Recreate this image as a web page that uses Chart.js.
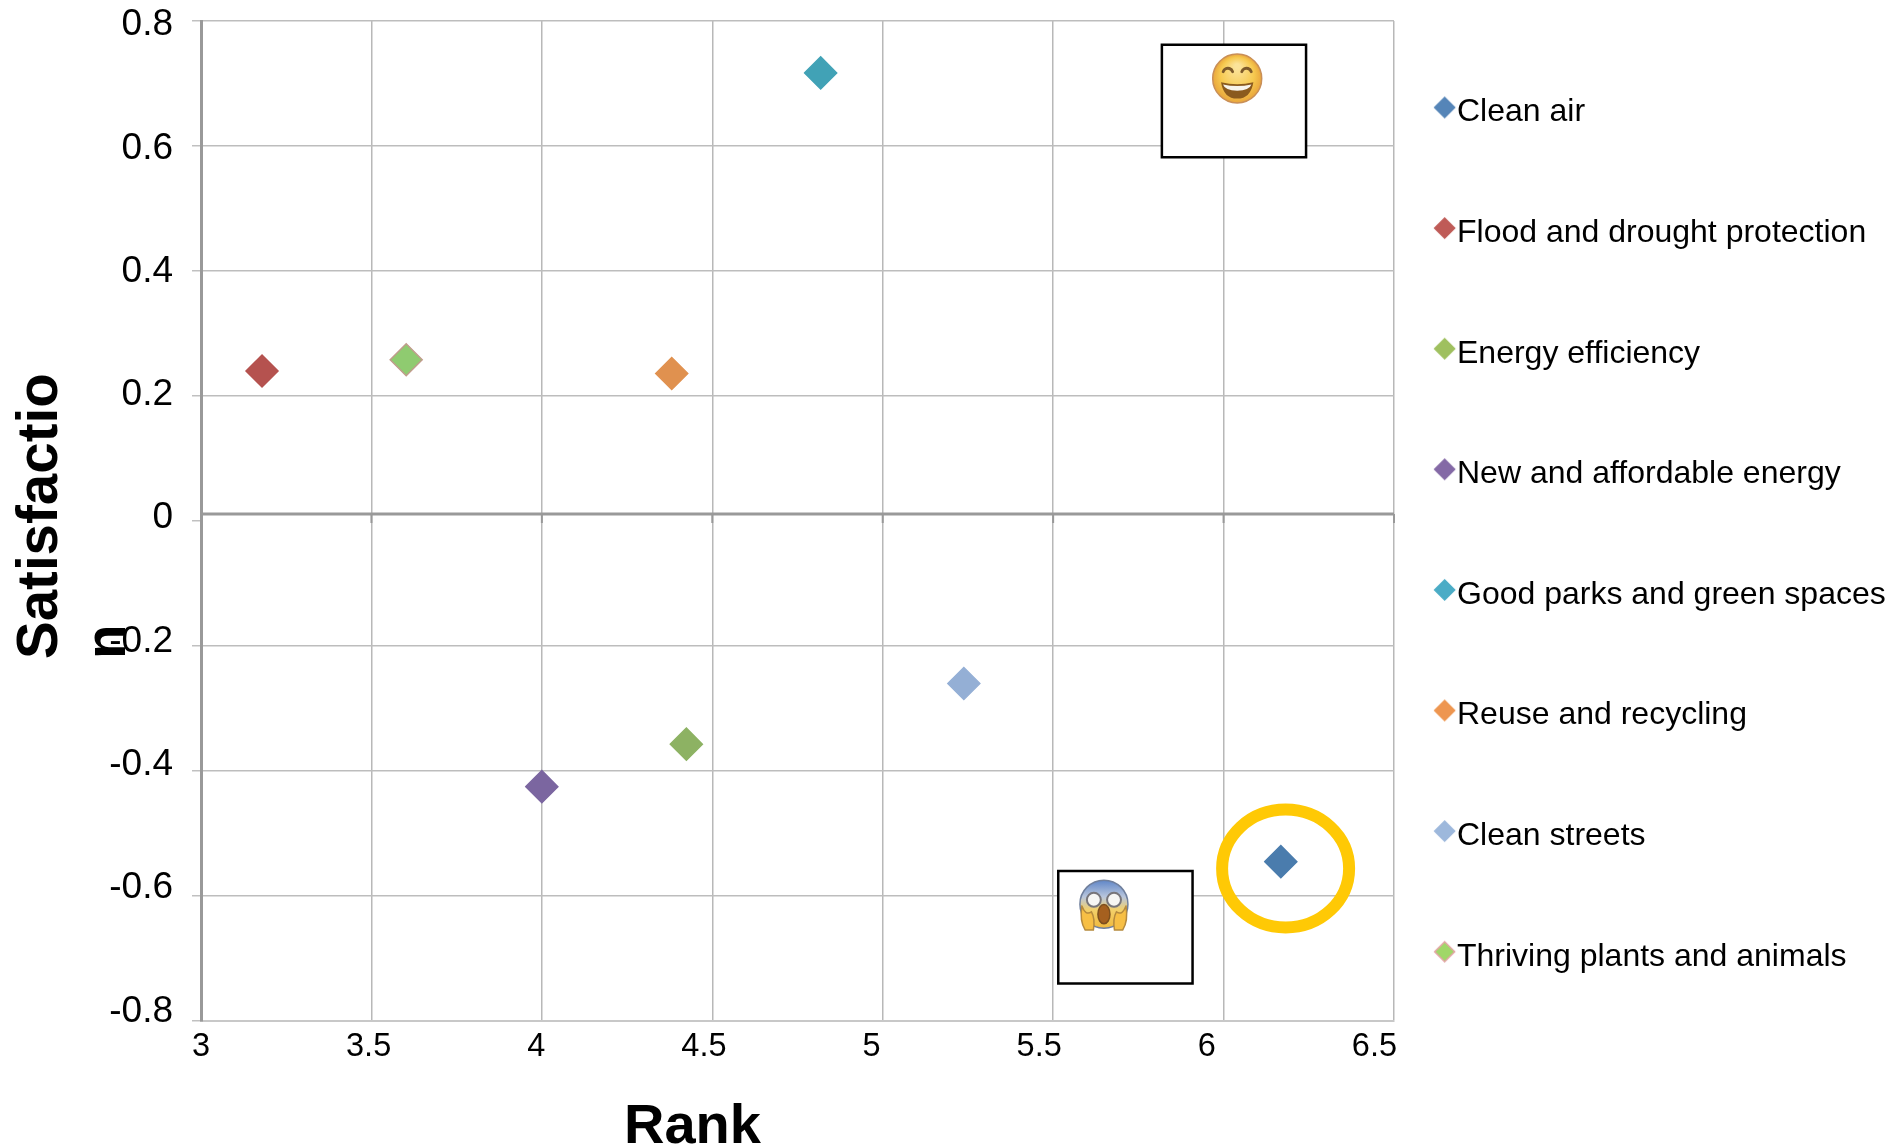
<!DOCTYPE html>
<html>
<head>
<meta charset="utf-8">
<title>Satisfaction and rank of environmental priorities</title>
<style>
  html, body { margin: 0; padding: 0; background: #fff; }
  #wrap { width: 1901px; height: 1147px; }
</style>
<script src="https://cdn.jsdelivr.net/npm/chart.js@4/dist/chart.umd.min.js"></script>
</head>
<body>
<div id="wrap"><canvas id="chart" width="1901" height="1147"></canvas></div>
<script>
const seriesNames = ['Clean air', 'Flood and drought protection', 'Energy efficiency',
  'New and affordable energy', 'Good parks and green spaces', 'Reuse and recycling',
  'Clean streets', 'Thriving plants and animals'];
const rankValues = [6.168, 3.179, 4.424, 4.0, 4.818, 4.381, 5.238, 3.602];
const satisfactionValues = [-0.545, 0.24, -0.357, -0.425, 0.717, 0.236, -0.26, 0.258];
const fillColors = ['#4a7cad', '#b5524f', '#8db263', '#7b66a0', '#41a2b6', '#e0914f', '#94afd5', '#8fcb70'];
const edgeColors = ['#4a7cad', '#b5524f', '#8db263', '#7b66a0', '#41a2b6', '#e0914f', '#94afd5', '#c09c8c'];
const legendFills = ['#5585b8', '#bf5b57', '#9fc05f', '#8469a6', '#4bacc6', '#ee9650', '#9db8dc', '#a0d768'];
const legendEdges = ['#5585b8', '#bf5b57', '#9fc05f', '#8469a6', '#4bacc6', '#ee9650', '#9db8dc', '#e3a4a4'];

const xTickValues = [3, 3.5, 4, 4.5, 5, 5.5, 6, 6.5];
const xTickLabels = ['3', '3.5', '4', '4.5', '5', '5.5', '6', '6.5'];
const yTickValues = [-0.8, -0.6, -0.4, -0.2, 0, 0.2, 0.4, 0.6, 0.8];
const yTickLabels = ['-0.8', '-0.6', '-0.4', '-0.2', '0', '0.2', '0.4', '0.6', '0.8'];

const xTitle = 'Rank';
const yTitleLines = ['Satisfactio', 'n'];

// Callout frames, in data units: [xFrom, xTo, yTop, yBottom]
const happyBox = [5.819, 6.242, 0.762, 0.582];
const scaredBox = [5.515, 5.909, -0.560, -0.740];
const happyFace = [6.040, 0.708];
const scaredFace = [5.649, -0.613];
const ringCentre = [6.182, -0.556];

const FONT = '"Liberation Sans", Arial, sans-serif';

// Legend swatch: a small diamond nudged up and to the right inside its own tile,
// so it sits tight against the start of the label.
function legendSwatch(fill, edge) {
  const tile = document.createElement('canvas');
  tile.width = 40;
  tile.height = 40;
  const c = tile.getContext('2d');
  const cx = 23.6, cy = 15, r = 10;
  c.beginPath();
  c.moveTo(cx, cy - r); c.lineTo(cx + r, cy); c.lineTo(cx, cy + r); c.lineTo(cx - r, cy);
  c.closePath();
  c.fillStyle = fill;
  c.fill();
  c.lineWidth = 1.5;
  c.strokeStyle = edge;
  c.stroke();
  return tile;
}
const legendTiles = legendFills.map((f, i) => legendSwatch(f, legendEdges[i]));

function drawHappyFace(ctx, cx, cy, r) {
  const g = ctx.createRadialGradient(cx, cy - r * 0.5, r * 0.1, cx, cy, r);
  g.addColorStop(0, '#fbe39a');
  g.addColorStop(0.65, '#f6c94f');
  g.addColorStop(1, '#e9a63c');
  ctx.beginPath(); ctx.arc(cx, cy, r, 0, Math.PI * 2);
  ctx.fillStyle = g; ctx.fill();
  ctx.lineWidth = 1.5; ctx.strokeStyle = '#c98f58'; ctx.stroke();
  // squinting eyes
  ctx.strokeStyle = '#7d5a2a'; ctx.lineWidth = 3; ctx.lineCap = 'round';
  [-0.38, 0.38].forEach(d => {
    ctx.beginPath();
    ctx.arc(cx + d * r, cy - r * 0.22, r * 0.2, Math.PI * 1.1, Math.PI * 1.9);
    ctx.stroke();
  });
  // open mouth with a band of teeth
  ctx.beginPath();
  ctx.moveTo(cx - r * 0.66, cy + r * 0.15);
  ctx.quadraticCurveTo(cx, cy + r * 0.32, cx + r * 0.66, cy + r * 0.15);
  ctx.quadraticCurveTo(cx + r * 0.55, cy + r * 0.82, cx, cy + r * 0.82);
  ctx.quadraticCurveTo(cx - r * 0.55, cy + r * 0.82, cx - r * 0.66, cy + r * 0.15);
  ctx.fillStyle = '#8a5a1e'; ctx.fill();
  ctx.beginPath();
  ctx.moveTo(cx - r * 0.58, cy + r * 0.24);
  ctx.quadraticCurveTo(cx, cy + r * 0.38, cx + r * 0.58, cy + r * 0.24);
  ctx.quadraticCurveTo(cx + r * 0.5, cy + r * 0.48, cx, cy + r * 0.5);
  ctx.quadraticCurveTo(cx - r * 0.5, cy + r * 0.48, cx - r * 0.58, cy + r * 0.24);
  ctx.fillStyle = '#f7f4ec'; ctx.fill();
}

function drawScaredFace(ctx, cx, cy, r) {
  const g = ctx.createLinearGradient(0, cy - r, 0, cy + r);
  g.addColorStop(0, '#5f86c8');
  g.addColorStop(0.35, '#b9c6dc');
  g.addColorStop(0.62, '#f3d06a');
  g.addColorStop(1, '#f0b93e');
  ctx.beginPath(); ctx.arc(cx, cy, r, 0, Math.PI * 2);
  ctx.fillStyle = g; ctx.fill();
  ctx.lineWidth = 1.5; ctx.strokeStyle = '#6f7f9c'; ctx.stroke();
  [-0.42, 0.42].forEach(d => {
    ctx.beginPath(); ctx.arc(cx + d * r, cy - r * 0.18, r * 0.29, 0, Math.PI * 2);
    ctx.fillStyle = '#f6f6f4'; ctx.fill();
    ctx.lineWidth = 2; ctx.strokeStyle = '#77757a'; ctx.stroke();
  });
  ctx.beginPath(); ctx.ellipse(cx, cy + r * 0.42, r * 0.25, r * 0.4, 0, 0, Math.PI * 2);
  ctx.fillStyle = '#a5601f'; ctx.fill();
  ctx.lineWidth = 1.5; ctx.strokeStyle = '#7d4f1e'; ctx.stroke();
  // hands pressed against the cheeks
  [-1, 1].forEach(s => {
    ctx.beginPath();
    ctx.moveTo(cx + s * r * 0.92, cy + r * 0.08);
    ctx.quadraticCurveTo(cx + s * r * 1.02, cy + r * 0.7, cx + s * r * 0.78, cy + r * 1.08);
    ctx.lineTo(cx + s * r * 0.44, cy + r * 1.08);
    ctx.quadraticCurveTo(cx + s * r * 0.36, cy + r * 0.6, cx + s * r * 0.52, cy + r * 0.32);
    ctx.quadraticCurveTo(cx + s * r * 0.76, cy + r * 0.5, cx + s * r * 0.92, cy + r * 0.08);
    ctx.fillStyle = '#f7bf45'; ctx.fill();
    ctx.lineWidth = 1.5; ctx.strokeStyle = '#b58a3e'; ctx.stroke();
  });
}

// Tick labels run on a slightly tighter pitch than the gridlines.
const tickLabelPitch = {
  id: 'tickLabelPitch',
  beforeDraw(chart) {
    const { x, y } = chart.scales;
    x.getLabelItems().forEach((item, i) => {
      const p = x.getPixelForTick(i);
      item.options.translation[0] = x.left + (p - x.left) * 0.9836;
    });
    y.getLabelItems().forEach((item, i) => {
      const p = y.getPixelForTick(i);
      item.options.translation[1] = y.top + 4 + (p - y.top) * 0.9864;
    });
  }
};

// The horizontal axis line crosses a little above the zero tick.
const zeroAxis = {
  id: 'zeroAxis',
  beforeDatasetsDraw(chart) {
    const { ctx, chartArea: a, scales: { x, y } } = chart;
    const lineY = y.getPixelForValue(0) - 7;
    ctx.save();
    ctx.strokeStyle = '#999999';
    ctx.lineWidth = 3;
    ctx.beginPath(); ctx.moveTo(a.left, lineY); ctx.lineTo(a.right, lineY); ctx.stroke();
    ctx.lineWidth = 2;
    xTickValues.forEach(v => {
      const px = x.getPixelForValue(v);
      ctx.beginPath(); ctx.moveTo(px, lineY); ctx.lineTo(px, lineY + 9); ctx.stroke();
    });
    ctx.restore();
  }
};

// Pins the plot's top edge and sits the legend column at its own spot beside the plot.
const layoutPins = {
  id: 'layoutPins',
  afterLayout(chart) {
    const plotTop = 21;
    const { chartArea: a, scales: { y } } = chart;
    a.top = plotTop;
    a.height = a.bottom - plotTop;
    y.top = plotTop;
    y.height = a.height;
    y.configure();
    chart.legend.left = 1352.4;
    chart.legend.top = 7.9;
  }
};

// Callout frames with faces, the highlight ring and the two axis titles.
const callouts = {
  id: 'callouts',
  afterDatasetsDraw(chart) {
    const { ctx, scales: { x, y } } = chart;
    ctx.save();
    [happyBox, scaredBox].forEach(b => {
      const l = x.getPixelForValue(b[0]), r = x.getPixelForValue(b[1]);
      const t = y.getPixelForValue(b[2]), o = y.getPixelForValue(b[3]);
      ctx.fillStyle = '#ffffff';
      ctx.fillRect(l, t, r - l, o - t);
      ctx.strokeStyle = '#000000';
      ctx.lineWidth = 2.5;
      ctx.strokeRect(l, t, r - l, o - t);
    });
    drawHappyFace(ctx, x.getPixelForValue(happyFace[0]), y.getPixelForValue(happyFace[1]), 24.5);
    drawScaredFace(ctx, x.getPixelForValue(scaredFace[0]), y.getPixelForValue(scaredFace[1]), 24);

    ctx.beginPath();
    ctx.ellipse(x.getPixelForValue(ringCentre[0]), y.getPixelForValue(ringCentre[1]), 63.5, 59, 0, 0, Math.PI * 2);
    ctx.strokeStyle = '#ffc905';
    ctx.lineWidth = 12;
    ctx.stroke();
    ctx.restore();
  },
  afterDraw(chart) {
    const { ctx } = chart;
    ctx.save();
    ctx.fillStyle = '#000000';
    ctx.textAlign = 'left';
    ctx.textBaseline = 'alphabetic';
    ctx.font = 'bold 56px ' + FONT;
    ctx.fillText(xTitle, 624, 1143);
    ctx.font = 'bold 56.5px ' + FONT;
    ctx.translate(56.5, 659);
    ctx.rotate(-Math.PI / 2);
    yTitleLines.forEach((line, i) => ctx.fillText(line, 0, i * 68.5));
    ctx.restore();
  }
};

new Chart(document.getElementById('chart'), {
  type: 'scatter',
  data: {
    datasets: seriesNames.map((name, i) => ({
      label: name,
      data: [{ x: rankValues[i], y: satisfactionValues[i] }],
      backgroundColor: fillColors[i],
      borderColor: edgeColors[i],
      borderWidth: 1.5,
      pointStyle: 'rectRot',
      pointRadius: 16,
      pointHoverRadius: 16
    }))
  },
  plugins: [tickLabelPitch, zeroAxis, layoutPins, callouts],
  options: {
    responsive: false,
    animation: false,
    plugins: {
      title: { display: false },
      tooltip: { enabled: false },
      legend: {
        position: 'right',
        align: 'start',
        maxWidth: 507,
        labels: {
          color: '#000000',
          font: { family: FONT, size: 32 },
          usePointStyle: true,
          boxWidth: 0.01,
          boxHeight: 15,
          padding: 88.6,
          generateLabels: chart =>
            Chart.defaults.plugins.legend.labels.generateLabels(chart).map((item, i) => ({
              ...item,
              pointStyle: legendTiles[i]
            }))
        }
      }
    },
    scales: {
      x: {
        type: 'linear',
        min: 3,
        max: 6.5,
        afterBuildTicks: s => { s.ticks = xTickValues.map(value => ({ value })); },
        afterFit: s => { s.height = 126; },
        border: { color: '#c8c8c8', width: 2 },
        grid: { color: '#b8b8b8', lineWidth: 1.5, drawTicks: false },
        ticks: {
          color: '#000000',
          font: { family: FONT, size: 32.5 },
          padding: 7,
          maxRotation: 0,
          autoSkip: false,
          callback: (v, i) => xTickLabels[i]
        }
      },
      y: {
        type: 'linear',
        min: -0.8,
        max: 0.8,
        afterBuildTicks: s => { s.ticks = yTickValues.map(value => ({ value })); },
        afterFit: s => { s.width = 201; },
        border: { color: '#999999', width: 3 },
        grid: {
          color: c => (c.tick && c.tick.value === 0 ? 'rgba(0,0,0,0)' : '#bdbdbd'),
          tickColor: '#c0c0c0',
          tickLength: 9,
          lineWidth: 1.5
        },
        ticks: {
          color: '#000000',
          font: { family: FONT, size: 37 },
          padding: 19,
          autoSkip: false,
          callback: (v, i) => yTickLabels[i]
        }
      }
    }
  }
});
</script>
</body>
</html>
